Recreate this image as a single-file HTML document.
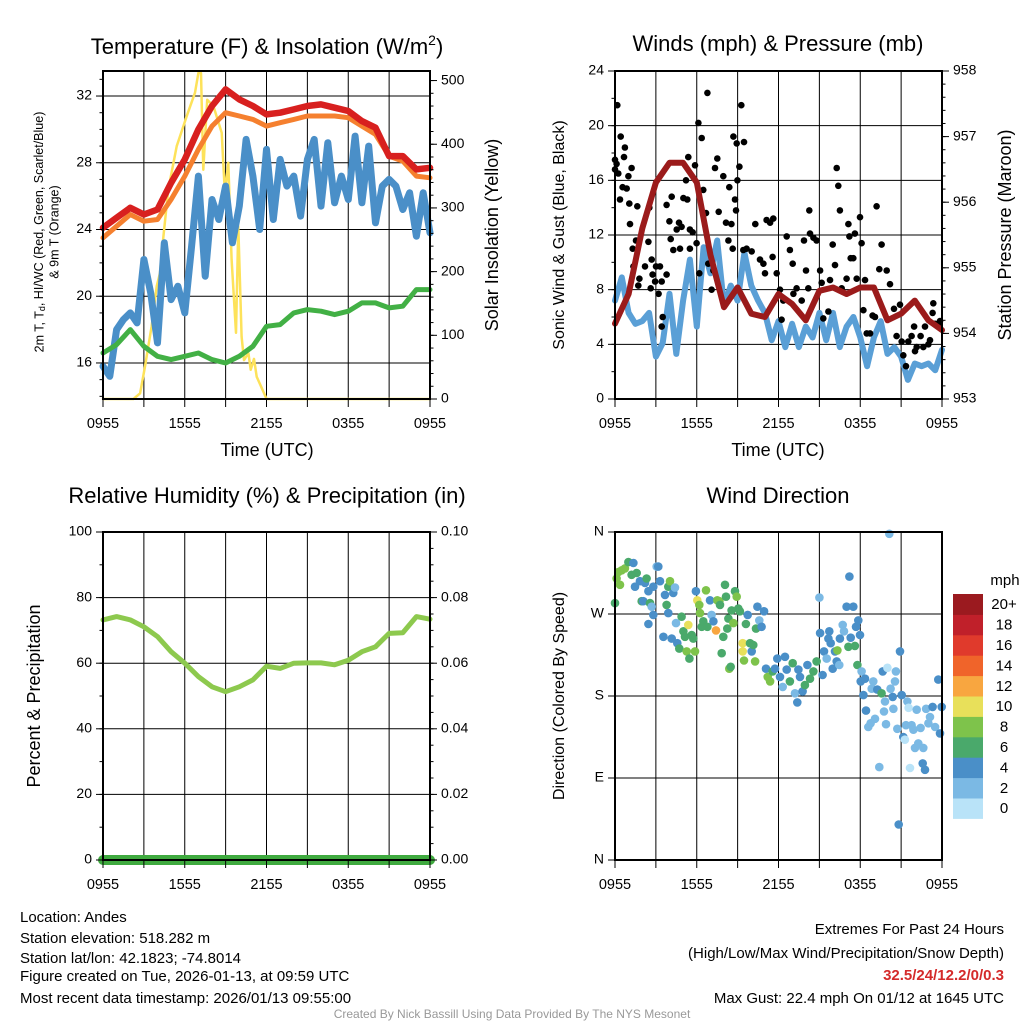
<!DOCTYPE html>
<html><head><meta charset="utf-8"><style>
html,body{margin:0;padding:0;background:#fff}
svg{display:block;font-family:"Liberation Sans",Arial,sans-serif}
</style></head><body>
<svg id="root" width="1024" height="1024" viewBox="0 0 1024 1024" xmlns="http://www.w3.org/2000/svg">
<rect x="0" y="0" width="1024" height="1024" fill="#fff"/>
<text x="267" y="54" font-size="22" text-anchor="middle">Temperature (F) &amp; Insolation (W/m<tspan font-size="14" dy="-9">2</tspan><tspan dy="9">)</tspan></text>
<text x="778" y="45" font-size="22" text-anchor="middle" dominant-baseline="middle">Winds (mph) &amp; Pressure (mb)</text>
<text x="267" y="497" font-size="22" text-anchor="middle" dominant-baseline="middle">Relative Humidity (%) &amp; Precipitation (in)</text>
<text x="778" y="497" font-size="22" text-anchor="middle" dominant-baseline="middle">Wind Direction</text>
<text x="267" y="451" font-size="18" text-anchor="middle" dominant-baseline="middle">Time (UTC)</text>
<text x="778" y="451" font-size="18" text-anchor="middle" dominant-baseline="middle">Time (UTC)</text>
<text transform="translate(40,232) rotate(-90)" font-size="12.5" text-anchor="middle" dominant-baseline="middle">2m T, T<tspan font-size="9" dy="3">d</tspan><tspan dy="-3">, HI/WC (Red, Green, Scarlet/Blue)</tspan></text>
<text transform="translate(55,232) rotate(-90)" font-size="12.5" text-anchor="middle" dominant-baseline="middle">&amp; 9m T (Orange)</text>
<text transform="translate(493,235) rotate(-90)" font-size="18" text-anchor="middle" dominant-baseline="middle">Solar Insolation (Yellow)</text>
<text transform="translate(560,235) rotate(-90)" font-size="16" text-anchor="middle" dominant-baseline="middle">Sonic Wind &amp; Gust (Blue, Black)</text>
<text transform="translate(1006,235) rotate(-90)" font-size="18" text-anchor="middle" dominant-baseline="middle">Station Pressure (Maroon)</text>
<text transform="translate(35,696) rotate(-90)" font-size="18" text-anchor="middle" dominant-baseline="middle">Percent &amp; Precipitation</text>
<text transform="translate(560,696) rotate(-90)" font-size="16" text-anchor="middle" dominant-baseline="middle">Direction (Colored By Speed)</text>
<g font-size="15">
<text x="20" y="922">Location: Andes</text>
<text x="20" y="943">Station elevation: 518.282 m</text>
<text x="20" y="963">Station lat/lon: 42.1823; -74.8014</text>
<text x="20" y="981">Figure created on Tue, 2026-01-13, at 09:59 UTC</text>
<text x="20" y="1003">Most recent data timestamp: 2026/01/13 09:55:00</text>
</g>
<g font-size="15" text-anchor="end">
<text x="1004" y="934">Extremes For Past 24 Hours</text>
<text x="1004" y="958">(High/Low/Max Wind/Precipitation/Snow Depth)</text>
<text x="1004" y="980" font-weight="bold" fill="#d42a2a">32.5/24/12.2/0/0.3</text>
<text x="1004" y="1003">Max Gust: 22.4 mph On 01/12 at 1645 UTC</text>
</g>
<text x="512" y="1018" font-size="12" fill="#999" text-anchor="middle">Created By Nick Bassill Using Data Provided By The NYS Mesonet</text>
<g id="layer"></g>
</svg>
<script>
// ===== data (hours since 0955 UTC) =====
const hourlyHours = [0,1,2,3,4,5,6,7,8,9,10,11,12,13,14,15,16,17,18,19,20,21,22,23,24];
const halfHours = [0,0.5,1,1.5,2,2.5,3,3.5,4,4.5,5,5.5,6,6.5,7,7.5,8,8.5,9,9.5,10,10.5,11,11.5,12,12.5,13,13.5,14,14.5,15,15.5,16,16.5,17,17.5,18,18.5,19,19.5,20,20.5,21,21.5,22,22.5,23,23.5,24];
const xTickLabels = ["0955","1555","2155","0355","0955"];
const tempRed = [24.1,24.7,25.3,24.9,25.2,26.8,28.2,30.0,31.4,32.4,31.8,31.4,30.9,31.0,31.2,31.4,31.5,31.3,31.1,30.5,30.1,28.4,28.4,27.6,27.7];
const temp9mOrange = [23.5,24.2,24.9,24.5,24.6,25.8,27.2,28.8,30.2,31.0,30.8,30.6,30.2,30.4,30.6,30.8,30.8,30.8,30.7,30.2,29.7,28.4,28.1,27.2,27.1];
const dewGreen = [16.6,17.1,18.0,17.0,16.4,16.2,16.4,16.6,16.2,16.0,16.4,17.0,18.2,18.3,19.0,19.2,19.1,18.9,19.1,19.6,19.6,19.3,19.4,20.4,20.4];
const windChillBlue = [15.8,15.2,18.0,18.6,19.0,18.4,22.2,20.2,17.2,23.2,19.8,20.6,19.0,23.0,27.2,21.2,25.8,24.6,26.6,23.2,25.4,29.4,27.2,24.0,28.8,24.6,28.2,26.6,27.2,24.8,28.2,29.4,25.4,29.2,25.6,27.2,25.8,29.6,25.6,29.0,24.4,26.6,27.0,26.6,25.2,26.2,23.6,26.2,23.8];
const solarHours = [0,2.23,2.72,3.08,3.57,3.94,4.18,4.43,4.79,5.41,6.14,6.75,7.0,7.19,7.36,7.65,8.1,8.71,8.95,9.2,9.44,9.76,9.93,10.17,10.35,10.67,10.84,11.08,11.28,12.01,24];
const solarValues = [0,0,9,51,114,177,198,255,329,397,444,481,512,512,360,470,460,418,323,371,219,104,271,98,61,72,46,63,35,0,0];
const windBlue = [7.2,8.9,6.3,5.5,5.7,6.3,3.1,4.1,7.7,3.3,7.2,10.2,5.3,11.1,9.2,11.6,6.8,8.3,7.2,10.7,8.3,7.2,6.3,4.3,5.7,3.8,5.5,3.8,5.3,4.5,6.3,4.3,6.3,3.8,5.3,6.0,4.5,2.4,4.5,5.7,3.3,3.8,3.1,1.4,2.6,2.4,2.6,2.1,3.6];
const pressure = [954.15,954.6,955.6,956.3,956.6,956.6,956.3,955.2,954.4,954.7,954.3,954.25,954.6,954.45,954.2,954.65,954.7,954.6,954.7,954.7,954.2,954.3,954.5,954.2,954.05];
const gustHours = [0.17,0,0.12,0,0.24,0.42,0.73,0.66,0.56,0.86,0.37,0.98,1.22,1.05,1.10,1.64,1.30,1.54,1.35,1.79,1.71,2.20,2.45,2.52,2.69,2.76,2.62,3.01,2.94,3.20,3.30,3.43,3.79,3.50,3.43,3.79,3.99,4.16,4.09,4.28,4.53,4.70,4.77,4.89,5.02,5.21,5.31,5.38,5.50,5.70,5.50,5.87,5.99,6.12,6.36,6.19,6.48,6.68,6.78,6.85,7.09,7.34,7.51,7.61,7.22,7.95,8.15,8.32,8.39,8.54,8.64,8.69,8.81,8.88,8.93,8.98,9.13,9.27,9.47,9.42,9.66,10.03,10.30,10.64,10.89,11.01,11.13,11.38,11.57,11.62,11.87,12.11,12.23,12.35,12.60,12.84,13.04,13.09,13.33,13.70,13.87,14.02,14.19,14.26,14.31,14.56,14.80,15.05,15.17,15.29,15.66,15.78,15.98,16.15,16.27,16.39,16.51,16.64,17.00,17.13,17.20,17.30,17.49,17.61,17.74,17.98,18.10,18.23,18.35,18.47,18.72,18.91,19.08,19.20,19.40,19.57,19.94,20.18,20.48,20.67,20.92,21.04,21.16,21.36,21.53,21.77,21.95,22.02,22.14,22.43,22.63,22.75,23.00,23.12,23.31,23.36,23.49,23.73,23.85];
const gustValues = [21.5,17.5,17.2,16.8,16.5,19.2,18.4,17.7,15.5,15.4,14.6,16.3,16.9,14.3,12.8,14.1,11.0,11.6,9.7,8.8,8.3,9.7,11.5,14.0,10.2,9.1,8.1,9.7,8.6,7.7,9.7,8.6,9.1,6.0,5.3,14.2,13.0,14.8,11.7,10.9,12.4,12.9,11.0,12.6,14.7,16.0,14.6,17.7,12.4,12.2,11.0,17.1,11.4,20.2,19.1,9.2,15.3,13.6,22.4,9.9,8.0,16.9,17.6,13.7,9.4,16.3,12.9,11.6,15.5,12.8,11.0,19.2,14.6,13.8,18.7,16.0,17.0,21.5,18.8,10.9,11.0,10.8,12.8,10.2,9.9,9.2,13.1,12.9,10.4,13.2,9.2,8.0,5.8,7.2,11.9,10.9,9.9,7.7,8.1,7.2,11.6,9.4,8.1,13.8,12.1,11.8,11.6,9.4,8.5,5.9,6.4,8.7,11.3,9.8,16.9,15.6,13.8,8.1,8.8,12.8,11.9,10.3,10.3,12.1,8.8,13.3,11.4,6.5,8.7,4.8,4.8,6.1,6.0,14.1,9.5,11.3,9.4,8.4,6.6,4.6,6.9,4.2,3.2,2.4,4.2,4.6,5.3,3.5,3.8,4.6,3.8,5.3,4.0,4.3,6.3,7.0,5.5,5.4,5.7];
const rhValues = [73.2,74.2,73.2,71.1,68.1,63.5,60.0,55.9,52.8,51.3,52.8,54.9,59.1,58.4,60.0,60.1,60.1,59.5,60.9,63.5,65.0,69.1,69.3,74.2,73.4];
const precipValues = [0,0,0,0,0,0,0,0,0,0,0,0,0,0,0,0,0,0,0,0,0,0,0,0,0];
const dirHours = [0,0.12,0.24,0.49,0.37,0.73,0.98,1.35,1.22,1.59,1.47,1.83,1.96,2.2,2.32,2.08,2.45,2.57,2.69,2.81,2.45,2.81,3.06,3.18,3.3,3.55,3.67,3.79,3.91,4.04,3.91,4.16,4.28,4.4,4.48,4.57,4.72,4.89,5.02,5.14,5.26,5.38,5.46,5.63,5.75,5.87,5.94,6.04,6.19,6.24,6.36,6.48,6.68,6.78,6.97,7.09,7.22,7.41,7.51,7.66,7.71,7.83,7.95,8.07,8.15,8.24,8.32,8.39,8.49,8.56,8.69,8.81,8.93,9.05,9.17,9.37,9.37,9.47,9.61,9.74,9.91,10.03,10.15,10.28,10.35,10.45,10.59,10.76,10.94,11.08,11.21,11.38,11.57,11.74,11.91,12.11,12.31,12.48,12.6,12.84,13.04,13.21,13.38,13.46,13.58,13.77,13.94,14.12,14.31,14.56,14.8,15.0,15.05,15.24,15.34,15.54,15.66,15.73,15.83,15.98,16.15,16.27,16.32,16.46,16.51,16.71,16.81,17.0,17.13,17.2,17.3,17.49,17.61,17.69,17.79,17.86,17.98,18.03,18.1,18.23,18.35,18.42,18.59,18.76,18.84,18.96,19.08,19.25,19.4,19.57,19.65,19.74,19.82,19.89,19.99,20.13,20.23,20.38,20.43,20.55,20.62,20.72,20.82,20.92,21.04,21.16,21.28,21.36,21.46,21.55,21.65,21.77,21.9,22.02,22.14,22.26,22.43,22.58,22.63,22.75,22.83,23.0,23.12,23.31,23.49,23.73,23.85,23.98];
const dirDegrees = [282,309,316,318,302,320,327,326,313,315,300,306,284,304,309,284,295,282,278,269,259,300,322,322,306,245,291,280,300,306,271,243,293,299,260,238,232,267,251,245,229,258,221,247,243,229,295,285,280,271,256,262,296,256,285,269,262,252,285,284,280,227,245,302,289,254,265,210,212,274,260,295,289,276,273,238,229,219,259,269,238,229,236,218,254,278,263,256,273,210,201,196,207,210,221,201,190,223,209,196,216,183,173,209,201,185,192,214,199,207,218,288,249,203,229,221,243,251,238,210,229,218,230,214,243,258,251,278,234,311,244,278,235,256,214,263,247,196,207,181,199,164,146,150,188,196,155,187,102,183,207,163,174,149,211,358,188,179,166,196,207,144,39,229,181,135,132,148,174,167,101,148,143,123,165,128,145,106,123,99,166,150,157,168,146,198,139,168];
const dirSpeeds = [6,8,8,8,8,8,6,4,6,6,4,4,6,4,6,4,4,6,2,4,4,4,2,4,4,4,4,6,6,8,4,4,4,2,2,4,6,6,6,6,8,10,6,6,6,8,4,10,8,8,6,6,8,6,4,2,4,12,8,8,6,6,6,6,6,6,6,8,6,6,8,6,8,6,6,10,10,8,6,4,6,4,6,8,6,4,2,4,4,4,8,8,6,4,4,4,2,4,4,6,6,2,4,4,4,4,6,4,6,6,6,2,4,4,4,2,4,4,4,4,4,4,8,2,4,2,2,4,6,4,4,4,6,4,6,4,4,4,2,4,4,4,2,2,2,2,2,4,2,6,4,2,2,2,0.5,2,2,4,2,2,2,2,4,4,4,4,0.5,2,2,0.5,0.5,2,2,2,2,2,2,4,2,4,2,2,2,4,2,4,4,4];
const speedLabels = ["0","2","4","6","8","10","12","14","16","18","20+"];
const speedColors = ["#b9e3f8","#7bb9e4","#4a8fc8","#4aa96b","#7ec34b","#e8e05a","#f8a640","#f0642a","#e03a2c","#c0202a","#9b1a1f"];

// ===== helpers =====
const NS = "http://www.w3.org/2000/svg";
const layer = document.getElementById('layer');
function mk(tag, parent){ const e = document.createElementNS(NS, tag); (parent||layer).appendChild(e); return e; }
function lin(d0,d1,r0,r1){ return v => r0 + (v-d0)/(d1-d0)*(r1-r0); }
function seg(x1,y1,x2,y2,stroke,w,name){
  const l = mk('line');
  l.setAttribute('x1',x1); l.setAttribute('y1',y1); l.setAttribute('x2',x2); l.setAttribute('y2',y2);
  l.setAttribute('stroke',stroke); l.setAttribute('stroke-width',w);
  
  
  return l;
}
function label(x,y,txt,anchor,size,name){
  const t = mk('text');
  t.setAttribute('x',x); t.setAttribute('y',y); t.setAttribute('text-anchor',anchor);
  t.setAttribute('dominant-baseline','middle'); t.setAttribute('font-size',size);
  t.textContent = txt;
  
  
  return t;
}
function series(xs, ys, sx, sy, color, w, name){
  const p = mk('path');
  p.setAttribute('d', xs.map((h,i)=>(i?'L':'M')+sx(h).toFixed(1)+','+sy(ys[i]).toFixed(1)).join(''));
  p.setAttribute('fill','none'); p.setAttribute('stroke',color); p.setAttribute('stroke-width',w);
  p.setAttribute('stroke-linejoin','round'); p.setAttribute('stroke-linecap','round');
  
  
  return p;
}
function panelGrid(P, sx, hLines, sy){
  for (let h=3; h<24; h+=3) seg(sx(h),P.y,sx(h),P.y+P.h,'#000',1,'vertical-gridline');
  hLines.forEach(v => seg(P.x,sy(v),P.x+P.w,sy(v),'#000',1,'horizontal-gridline'));
}
function xAxis(P, sx){
  for (let h=0; h<=24; h+=3) seg(sx(h),P.y+P.h,sx(h),P.y+P.h+8,'#000',1,'x-tick');
  xTickLabels.forEach((s,i)=> label(sx(i*6), P.y+P.h+25, s, 'middle', 14.5, 'x-tick-label'));
}
function yAxis(P, sy, majors, minors, labels, side){
  const x = side==='left' ? P.x : P.x+P.w, d = side==='left' ? -1 : 1;
  minors.forEach(v => seg(x,sy(v),x+d*3.5,sy(v),'#000',1,side+'-minor-tick'));
  majors.forEach((v,i) => {
    seg(x,sy(v),x+d*7,sy(v),'#000',1,side+'-major-tick');
    label(x+d*11, sy(v), labels[i], side==='left'?'end':'start', 14, side+'-tick-label');
  });
}
function frame(P, name){
  const r = mk('rect');
  r.setAttribute('x',P.x); r.setAttribute('y',P.y); r.setAttribute('width',P.w); r.setAttribute('height',P.h);
  r.setAttribute('fill','none'); r.setAttribute('stroke','#000'); r.setAttribute('stroke-width',2);
  
  
}
function range(a,b,s){ const o=[]; for(let v=a; v<=b+1e-9; v+=s) o.push(+v.toFixed(4)); return o; }

// ===== Panel 1: temperature & insolation =====
const P1 = {x:103,y:71,w:327,h:328};
const sx1 = lin(0,24,P1.x,P1.x+P1.w);
const syT = lin(13.84,33.5,P1.y+P1.h,P1.y);
const syS = lin(0,515,P1.y+P1.h,P1.y);
panelGrid(P1, sx1, [16,20,24,28,32], syT);
series(solarHours, solarValues, sx1, syS, '#fde25a', 2.5, 'insolation-line');
series(halfHours, windChillBlue, sx1, syT, '#4a8fc8', 7, 'wind-chill-line');
series(hourlyHours, dewGreen, sx1, syT, '#42b045', 5, 'dewpoint-line');
series(hourlyHours, temp9mOrange, sx1, syT, '#f5802f', 5, 'temp-9m-line');
series(hourlyHours, tempRed, sx1, syT, '#d8201f', 6.5, 'temp-2m-line');
frame(P1,'temperature-plot-frame');
xAxis(P1, sx1);
yAxis(P1, syT, [16,20,24,28,32], range(14,33,1), ["16","20","24","28","32"], 'left');
yAxis(P1, syS, [0,100,200,300,400,500], range(0,500,20), ["0","100","200","300","400","500"], 'right');

// ===== Panel 2: winds & pressure =====
const P2 = {x:615,y:71,w:327,h:328};
const sx2 = lin(0,24,P2.x,P2.x+P2.w);
const syW = lin(0,24,P2.y+P2.h,P2.y);
const syP = lin(953,958,P2.y+P2.h,P2.y);
panelGrid(P2, sx2, [4,8,12,16,20], syW);
series(halfHours, windBlue, sx2, syW, '#5a9fd6', 6, 'sonic-wind-line');
gustHours.forEach((h,i) => {
  const c = mk('circle');
  c.setAttribute('cx', sx2(h).toFixed(1)); c.setAttribute('cy', syW(gustValues[i]).toFixed(1)); c.setAttribute('r', 3.3); c.setAttribute('fill', '#000');
  
  
});
series(hourlyHours, pressure, sx2, syP, '#9b1b1b', 6, 'pressure-line');
frame(P2,'winds-plot-frame');
xAxis(P2, sx2);
yAxis(P2, syW, [0,4,8,12,16,20,24], range(0,24,2), ["0","4","8","12","16","20","24"], 'left');
yAxis(P2, syP, [953,954,955,956,957,958], range(953,958,0.2), ["953","954","955","956","957","958"], 'right');

// ===== Panel 3: RH & precipitation =====
const P3 = {x:103,y:532,w:327,h:328};
const sx3 = lin(0,24,P3.x,P3.x+P3.w);
const syR = lin(0,100,P3.y+P3.h,P3.y);
const syPr = lin(0,0.1,P3.y+P3.h,P3.y);
panelGrid(P3, sx3, [20,40,60,80], syR);
series(hourlyHours, rhValues, sx3, syR, '#8dc94e', 5, 'humidity-line');
series(hourlyHours, precipValues, sx3, syPr, '#3faa3f', 10, 'precipitation-line');
frame(P3,'humidity-plot-frame');
xAxis(P3, sx3);
yAxis(P3, syR, [0,20,40,60,80,100], range(0,100,10), ["0","20","40","60","80","100"], 'left');
yAxis(P3, syPr, [0,0.02,0.04,0.06,0.08,0.1], range(0,0.1,0.005), ["0.00","0.02","0.04","0.06","0.08","0.10"], 'right');

// ===== Panel 4: wind direction =====
const P4 = {x:615,y:532,w:327,h:328};
const sx4 = lin(0,24,P4.x,P4.x+P4.w);
const syD = lin(0,360,P4.y+P4.h,P4.y);
panelGrid(P4, sx4, [90,180,270], syD);
dirHours.forEach((h,i) => {
  const c = mk('circle');
  const bin = Math.min(10, Math.round(dirSpeeds[i]/2));
  c.setAttribute('cx', sx4(h).toFixed(1)); c.setAttribute('cy', syD(dirDegrees[i]).toFixed(1)); c.setAttribute('r', 4.3); c.setAttribute('fill', speedColors[bin]);
  
  
});
frame(P4,'direction-plot-frame');
xAxis(P4, sx4);
yAxis(P4, syD, [0,90,180,270,360], [], ["N","E","S","W","N"], 'left');

// colorbar
const cbTop = 594, cbH = 20.4;
speedLabels.forEach((s,i) => {
  const k = speedLabels.length-1-i;
  const r = mk('rect');
  r.setAttribute('x', 953); r.setAttribute('y', cbTop + k*cbH); r.setAttribute('width', 30); r.setAttribute('height', cbH+0.5); r.setAttribute('fill', speedColors[i]);
  
  
  label(1004, cbTop + k*cbH + cbH/2 + 1, s, 'middle', 15, 'colorbar-label');
});
label(1005, 581, 'mph', 'middle', 15, 'colorbar-title');
</script>
</body></html>
